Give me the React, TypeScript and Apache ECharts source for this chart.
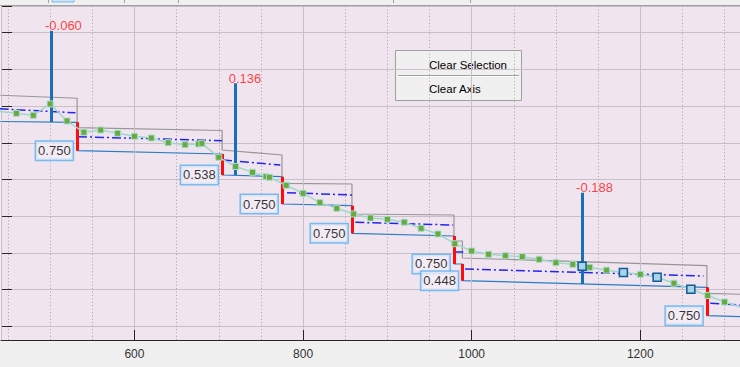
import React, { useEffect, useRef } from "react";
import * as echarts from "echarts";

// ---- axes ----
const xMin = 441.7;
const xMax = 1318.3;
const yMin = -0.373;
const yMax = 8.727;

// ---- step segments ----
const segStart = [440, 532, 704, 775, 858, 979, 989, 1279];
const segEnd = [532, 704, 775, 858, 979, 989, 1279, 1320];
const topStart = [6.296, 5.414, 4.804, 3.896, 3.06, 2.324, 1.861, 0.899];
const topEnd = [6.213, 5.335, 4.668, 3.877, 3.033, 2.324, 1.651, 0.872];
const botStart = [5.58, 4.785, 4.123, 3.332, 2.534, 1.698, 1.243, 0.289];
const botEnd = [5.559, 4.695, 4.076, 3.286, 2.46, 1.698, 1.063, 0.262];
const meanFrom = [440, 533, 705, 781, 862, 981, 992, 1283];
const meanTo = [530, 704, 773, 858, 978, 990, 1275, 1320];
const meanStart = [5.926, 5.166, 4.531, 3.64, 2.834, 2.033, 1.561, 0.627];
const meanEnd = [5.817, 5.057, 4.395, 3.578, 2.76, 2.033, 1.371, 0.58];
const stepLabels = [0.75, 0.538, 0.75, 0.75, 0.75, 0.448, 0.75];

// ---- stems ----
const stemX = [501, 719, 1131];
const stemBottom = [5.567, 4.123, 1.153];
const stemTop = [8.046, 6.621, 3.64];
const stemValue = [-0.06, 0.136, -0.188];

// ---- data points ----
const pointX = [440, 460, 480, 500, 520, 540, 560, 580, 600, 620, 640, 660, 676, 680, 700, 720, 740, 756, 760, 780, 800, 820, 840, 860, 880, 900, 920, 940, 960, 980, 1000, 1020, 1040, 1060, 1080, 1100, 1120, 1131, 1140, 1160, 1180, 1200, 1220, 1240, 1260, 1280, 1300, 1320];
const pointY = [5.853, 5.804, 5.749, 6.057, 5.594, 5.286, 5.349, 5.259, 5.177, 5.131, 5.003, 4.948, 4.967, 4.986, 4.605, 4.354, 4.196, 4.076, 4.06, 3.842, 3.624, 3.368, 3.215, 3.06, 2.951, 2.916, 2.837, 2.67, 2.515, 2.251, 2.052, 1.962, 1.924, 1.896, 1.826, 1.733, 1.689, 1.638, 1.608, 1.529, 1.466, 1.417, 1.335, 1.174, 1.011, 0.839, 0.662, 0.518];
const selectedX = [1131, 1180, 1220, 1260, 1320];

const FONT = "Liberation Sans";

export default function App() {
  const ref = useRef<HTMLDivElement>(null);
  useEffect(() => {
    document.body.style.margin = "0";
    const chart = echarts.init(ref.current!, null, { renderer: "svg" });

    const topLine: number[][] = [];
    const botLine: number[][] = [];
    segStart.forEach((s, i) => {
      topLine.push([s, topStart[i]], [segEnd[i], topEnd[i]]);
      botLine.push([s, botStart[i]], [segEnd[i], botEnd[i]]);
    });
    const meanLines = meanFrom.map((x, i) => ({ coords: [[x, meanStart[i]], [meanTo[i], meanEnd[i]]] }));
    const redBars = stepLabels.map((_, k) => {
      const i = k + 1;
      return { coords: [[segStart[i], botEnd[i - 1]], [segStart[i], botStart[i]]] };
    });
    const stepLabelPts = stepLabels.map((v, k) => [segStart[k + 1], botStart[k + 1], v]);
    const stems = stemX.map((x, i) => ({ coords: [[x, stemBottom[i]], [x, stemTop[i]]] }));
    const stemLabelPts = stemX.map((x, i) => [x, stemTop[i], stemValue[i]]);
    const pts = pointX.map((x, i) => [x, pointY[i]]);
    const sel = pts.filter((p) => selectedX.includes(p[0]));

    const option: any = {
      animation: false,
      backgroundColor: "#f0f0f0",
      grid: {
        left: 1,
        right: 0,
        top: 6,
        bottom: 27,
        show: true,
        backgroundColor: "#f0e5ef",
        borderWidth: 0,
      },
      xAxis: [
        {
          type: "value",
          min: xMin,
          max: xMax,
          minInterval: 200,
          maxInterval: 200,
          axisLine: { show: true, onZero: false, lineStyle: { color: "#262626", width: 1 } },
          axisTick: { show: true, inside: true, length: 10, lineStyle: { color: "#262626" } },
          axisLabel: {
            showMinLabel: false,
            showMaxLabel: false,
            color: "#333333",
            fontSize: 12,
            fontFamily: FONT,
            margin: 8,
            formatter: (v: number) => String(Math.round(v)),
          },
          splitLine: { show: true, lineStyle: { color: "#c9bfc9", width: 1 } },
          z: 3,
        },
        {
          type: "value",
          min: xMin,
          max: xMax,
          minInterval: 50,
          maxInterval: 50,
          position: "top",
          axisLine: { show: false, onZero: false },
          axisTick: { show: false },
          axisLabel: { show: false },
          splitLine: { show: true, lineStyle: { color: "#a8a0a8", width: 1, type: [1, 2.4] } },
        },
      ],
      yAxis: {
        type: "value",
        min: yMin,
        max: yMax,
        minInterval: 1,
        maxInterval: 1,
        axisLine: { show: true, onZero: false, lineStyle: { color: "#262626", width: 1 } },
        axisTick: { show: true, inside: true, length: 11, lineStyle: { color: "#262626" } },
        axisLabel: { show: false },
        splitLine: { show: true, lineStyle: { color: "#c9bfc9", width: 1 } },
      },
      series: [
        {
          type: "line",
          data: topLine,
          showSymbol: false,
          lineStyle: { color: "#969696", width: 1.2 },
          z: 2,
        },
        {
          type: "line",
          data: botLine,
          showSymbol: false,
          lineStyle: { color: "#2a7cc4", width: 1.2 },
          z: 2,
        },
        {
          type: "lines",
          coordinateSystem: "cartesian2d",
          data: meanLines,
          lineStyle: { color: "#2424f0", width: 1.5, type: [9, 3, 2, 3], opacity: 1 },
          z: 3,
        },
        {
          type: "lines",
          coordinateSystem: "cartesian2d",
          data: stems,
          lineStyle: { color: "#1a70b8", width: 3, opacity: 1 },
          z: 4,
        },
        {
          type: "lines",
          coordinateSystem: "cartesian2d",
          data: redBars,
          lineStyle: { color: "#ff0c0c", width: 3, opacity: 1 },
          z: 4,
        },
        {
          type: "line",
          data: pts,
          symbol: "rect",
          symbolSize: 6,
          showSymbol: true,
          itemStyle: { color: "#6aaa3c", borderColor: "#a6dccf", borderWidth: 1 },
          lineStyle: { color: "#a2d6cc", width: 1.5 },
          z: 5,
        },
        {
          type: "scatter",
          data: sel,
          symbol: "rect",
          symbolSize: 8,
          itemStyle: { color: "#a9d3e6", borderColor: "#105a98", borderWidth: 1.5, opacity: 1 },
          z: 6,
        },
        {
          type: "scatter",
          data: stepLabelPts,
          symbolSize: 1,
          itemStyle: { color: "rgba(0,0,0,0)" },
          label: {
            show: true,
            position: "left",
            distance: 4,
            formatter: (p: any) => p.value[2].toFixed(3),
            fontSize: 13,
            fontFamily: FONT,
            color: "#000000",
            backgroundColor: "#f5eef5",
            borderColor: "#5ab0ee",
            borderWidth: 1.5,
            padding: [2, 2, 1, 2],
            lineHeight: 15,
          },
          z: 8,
        },
        {
          type: "scatter",
          data: stemLabelPts,
          symbolSize: 1,
          itemStyle: { color: "rgba(0,0,0,0)" },
          label: {
            show: true,
            position: "top",
            distance: 1,
            align: "left",
            offset: [-6, 3],
            formatter: (p: any) => p.value[2].toFixed(3),
            fontSize: 13,
            fontFamily: FONT,
            color: "#ff1010",
            lineHeight: 13,
          },
          z: 8,
        },
      ],
      graphic: [
        { type: "line", shape: { x1: 0, y1: 5.5, x2: 740, y2: 5.5 }, style: { stroke: "#a0a0a0", lineWidth: 1 }, z: 100 },
        ...[48, 124, 178, 393, 470].map((x) => ({
          type: "line",
          shape: { x1: x + 0.5, y1: 0, x2: x + 0.5, y2: 3 },
          style: { stroke: "#a0a0a0", lineWidth: 1 },
          z: 100,
        })),
        { type: "rect", shape: { x: 52, y: -1, width: 22, height: 3 }, style: { fill: "#cce4f7", stroke: "#7ab8ea", lineWidth: 1 }, z: 100 },
        {
          type: "group",
          z: 100,
          children: [
            { type: "rect", shape: { x: 395.5, y: 50.5, width: 126, height: 50 }, style: { fill: "#f0f0f0", stroke: "#a0a0a0", lineWidth: 1 } },
            { type: "line", shape: { x1: 398, y1: 75.5, x2: 519, y2: 75.5 }, style: { stroke: "#a0a0a0", lineWidth: 1 } },
            { type: "line", shape: { x1: 398, y1: 76.5, x2: 519, y2: 76.5 }, style: { stroke: "#ffffff", lineWidth: 1 } },
            { type: "text", x: 429, y: 65, style: { text: "Clear Selection", fill: "#000000", fontSize: 11.5, fontFamily: FONT, verticalAlign: "middle" } },
            { type: "text", x: 429, y: 89, style: { text: "Clear Axis", fill: "#000000", fontSize: 11.5, fontFamily: FONT, verticalAlign: "middle" } },
          ],
        },
      ],
    };
    chart.setOption(option);
    return () => chart.dispose();
  }, []);
  return <div ref={ref} style={{ width: 740, height: 367 }} />;
}
